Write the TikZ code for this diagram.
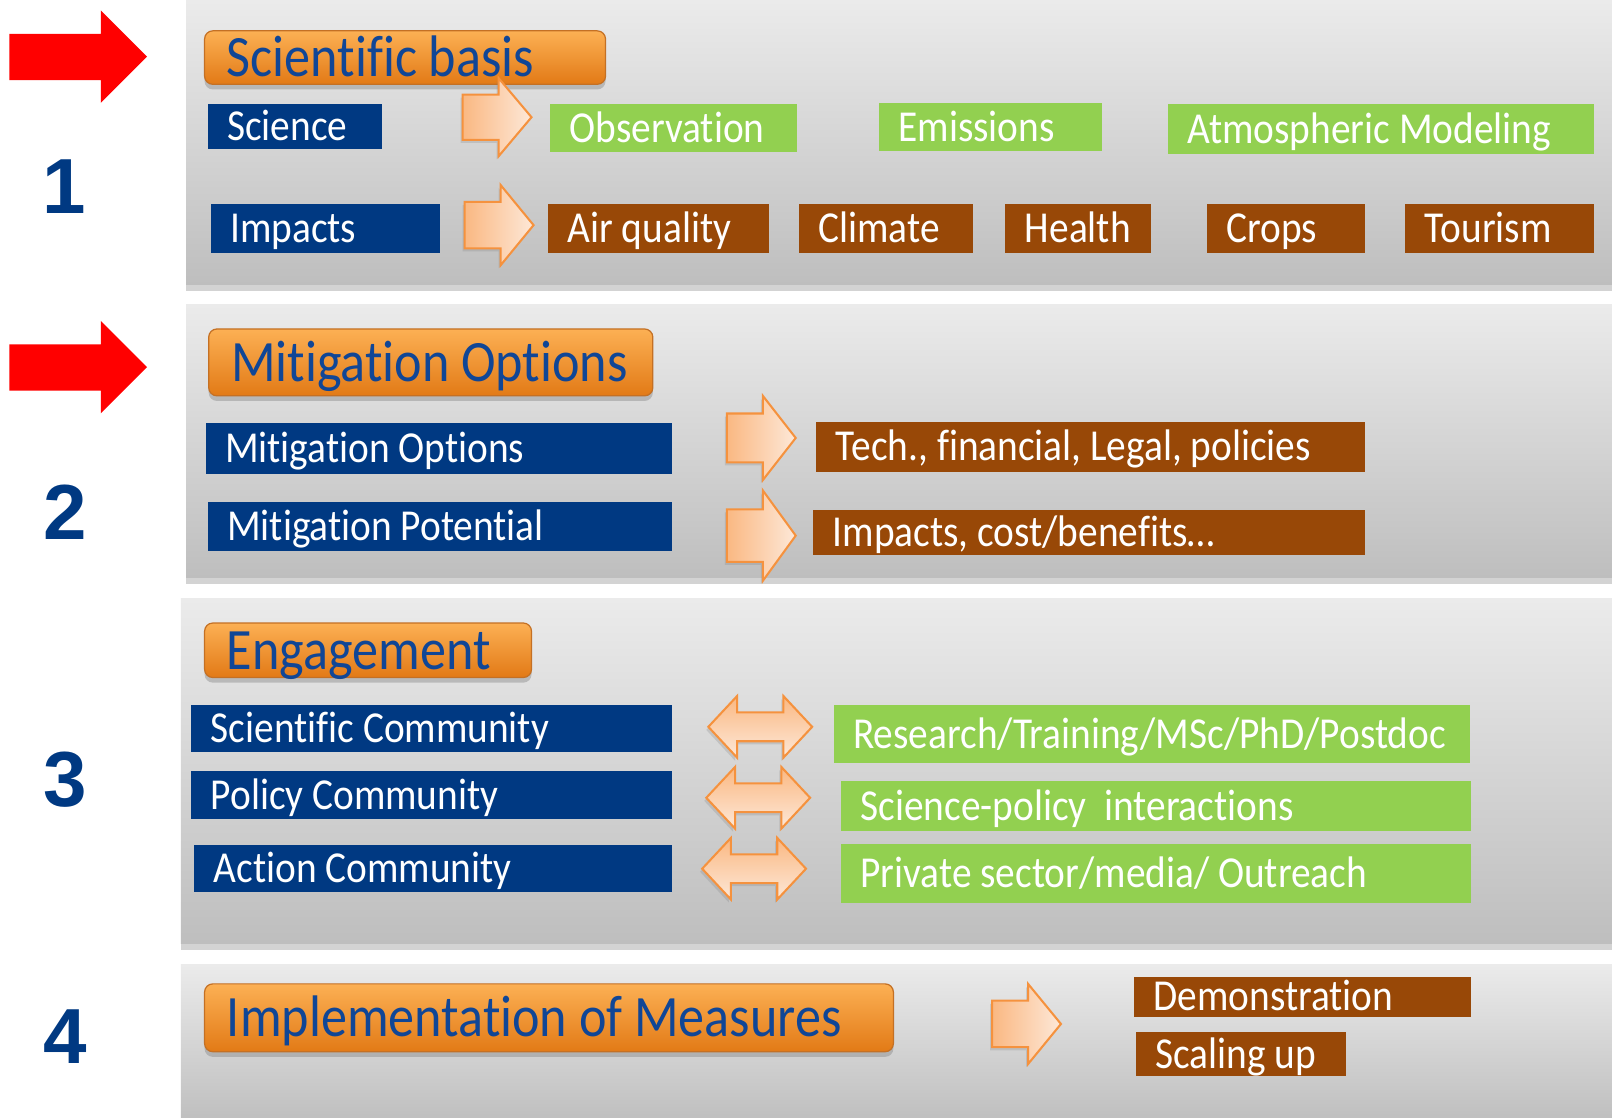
\documentclass[tikz,border=0pt]{standalone}
\usepackage{fontspec}
\setmainfont{Carlito}[FakeStretch=0.89, Ligatures=NoCommon]
\newfontfamily\numfont{Liberation Sans}
\usetikzlibrary{fit,shadows}

\definecolor{navy}{RGB}{0,57,130}
\definecolor{leaf}{RGB}{146,208,80}
\definecolor{rust}{RGB}{152,72,7}
\definecolor{inkblue}{RGB}{16,70,150}
\definecolor{panelTop}{RGB}{235,235,235}
\definecolor{panelBot}{RGB}{190,190,190}
\definecolor{orTop}{RGB}{252,176,84}
\definecolor{orMid}{RGB}{247,148,36}
\definecolor{orBot}{RGB}{226,122,22}
\definecolor{orLine}{RGB}{196,112,36}
\definecolor{arrowL}{RGB}{250,184,130}
\definecolor{arrowR}{RGB}{253,232,216}
\definecolor{arrowLine}{RGB}{245,146,62}

\tikzset{
  panel/.style={top color=panelTop, bottom color=panelBot,
    drop shadow={opacity=.35, shadow xshift=0pt, shadow yshift=-3pt}},
  pill/.style={rounded corners=4pt, draw=orLine, line width=0.6pt,
    top color=orTop, middle color=orMid, bottom color=orBot,
    drop shadow={opacity=.4, shadow xshift=0pt, shadow yshift=-2.5pt}},
  pilltext/.style={font=\fontsize{28.5}{30}\selectfont, text=inkblue,
    inner sep=0pt, text height=18.3pt, text depth=0pt},
  boxtext/.style={font=\fontsize{21.5}{23}\selectfont, text=white,
    inner sep=0pt, text height=13.8pt, text depth=0pt},
  number/.style={font=\numfont\bfseries\fontsize{38}{40}\selectfont,
    text=navy, inner sep=0pt, text height=27.2pt, text depth=0pt},
  blockarrow/.style={draw=arrowLine, line width=1pt, line join=miter,
    drop shadow={opacity=.25, shadow xshift=-1pt, shadow yshift=-1.5pt}},
}

% coloured box with its text set in from the left edge
\newcommand{\tagbox}[5]{%
  \node[fit={#3 #4}, inner sep=0pt, fill=#2] (#1) {};
  \node[boxtext, anchor=west] (#1-text) at ([xshift=9.5pt]#1.west) {#5};}
% orange heading
\newcommand{\pillbox}[4]{%
  \node[fit={#2 #3}, inner sep=0pt, pill] (#1) {};
  \node[pilltext, anchor=west] (#1-text) at ([xshift=11pt]#1.west) {#4};}
% right block arrow: tail x, centre y, half height of the head
\newcommand{\rightblock}[3]{%
  \draw[blockarrow, left color=arrowL, right color=arrowR]
    (#1,#2-0.58*#3) -- (#1+35,#2-0.58*#3) -- (#1+35,#2-#3) -- (#1+67,#2)
    -- (#1+35,#2+#3) -- (#1+35,#2+0.58*#3) -- (#1,#2+0.58*#3) -- cycle;}
% double block arrow: left tip x, centre y
\newcommand{\bothblock}[2]{%
  \draw[blockarrow, top color=arrowL, bottom color=arrowR]
    (#1,#2) -- (#1+28,#2-30) -- (#1+28,#2-14) -- (#1+73,#2-14) -- (#1+73,#2-30)
    -- (#1+101,#2) -- (#1+73,#2+30) -- (#1+73,#2+14) -- (#1+28,#2+14)
    -- (#1+28,#2+30) -- cycle;}

\begin{document}
\begin{tikzpicture}[x=0.5pt, y=-0.5pt]
    \useasboundingbox (0,0) rectangle (1568,1087);

    % the four bands
    \shade[panel] (181,0) rectangle (1568,277);
    \shade[panel] (181,296) rectangle (1568,562);
    \shade[panel] (176,582) rectangle (1568,918);
    \shade[panel] (176,938) rectangle (1568,1092);

    % red markers
    \fill[red] (9,33) -- (98,33) -- (98,10) -- (143,55) -- (98,100) -- (98,78) -- (9,78) -- cycle;
    \fill[red] (9,335) -- (98,335) -- (98,312) -- (143,357) -- (98,402) -- (98,380) -- (9,380) -- cycle;

    \node[number] (n1) at (62,180) {1};
    \node[number] (n2) at (63,498) {2};
    \node[number] (n3) at (63,757) {3};
    \node[number] (n4) at (63,1007) {4};

    % 1: scientific basis
    \pillbox{basis}{(199,30)}{(589,82)}{Scientific basis}
    \tagbox{science}{navy}{(202,101)}{(372,145)}{Science}
    \tagbox{impacts}{navy}{(205,198)}{(428,246)}{Impacts}
    \tagbox{obs}{leaf}{(535,101)}{(775,148)}{Observation}
    \tagbox{emis}{leaf}{(855,100)}{(1072,147)}{Emissions}
    \tagbox{model}{leaf}{(1136,101)}{(1550,150)}{Atmospheric Modeling}
    \tagbox{air}{rust}{(533,198)}{(748,246)}{Air quality}
    \tagbox{climate}{rust}{(777,198)}{(946,246)}{Climate}
    \tagbox{health}{rust}{(978,198)}{(1120,246)}{Health}
    \tagbox{crops}{rust}{(1174,198)}{(1328,246)}{Crops}
    \tagbox{tourism}{rust}{(1367,198)}{(1550,246)}{Tourism}
    \rightblock{450}{114}{38}
    \rightblock{452}{219}{39}

    % 2: mitigation
    \pillbox{mitig}{(203,320)}{(635,385)}{Mitigation Options}
    \tagbox{options}{navy}{(200,411)}{(654,461)}{Mitigation Options}
    \tagbox{potential}{navy}{(202,488)}{(654,536)}{Mitigation Potential}
    \tagbox{tech}{rust}{(794,410)}{(1328,459)}{Tech., financial, Legal, policies}
    \tagbox{cost}{rust}{(791,496)}{(1328,540)}{Impacts, cost/benefits…}
    \rightblock{707}{426}{41}
    \rightblock{707}{521}{44}

    % 3: engagement
    \pillbox{engage}{(199,606)}{(517,659)}{Engagement}
    \tagbox{scicom}{navy}{(186,686)}{(654,731)}{Scientific Community}
    \tagbox{polcom}{navy}{(186,750)}{(654,797)}{Policy Community}
    \tagbox{actcom}{navy}{(189,822)}{(654,868)}{Action Community}
    \tagbox{research}{leaf}{(811,686)}{(1430,742)}{Research/Training/MSc/PhD/Postdoc}
    \tagbox{interact}{leaf}{(818,760)}{(1431,808)}{Science-policy\ \ interactions}
    \tagbox{outreach}{leaf}{(818,821)}{(1431,878)}{Private sector/media/ Outreach}
    \bothblock{689}{707}
    \bothblock{687}{776}
    \bothblock{683}{845}

    % 4: implementation
    \pillbox{implement}{(199,957)}{(869,1023)}{Implementation of Measures}
    \tagbox{demo}{rust}{(1103,950)}{(1431,989)}{Demonstration}
    \tagbox{scaling}{rust}{(1105,1004)}{(1309,1047)}{Scaling up}
    \rightblock{965}{996}{39}
\end{tikzpicture}
\end{document}
